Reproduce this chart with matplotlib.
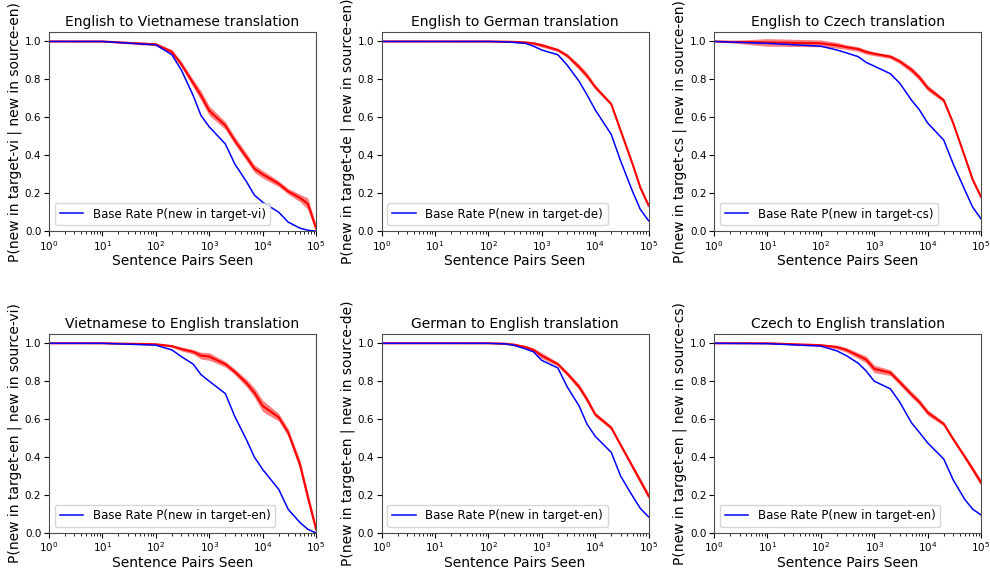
import numpy as np
import matplotlib
matplotlib.use("Agg")
import matplotlib.pyplot as plt

# sentence pairs seen (sample points)
pairs = [1, 10, 100, 200, 300, 500, 700, 1000, 2000, 3000, 5000, 7000,
         10000, 20000, 30000, 50000, 70000, 100000]

titles = ["English to Vietnamese translation", "English to German translation",
          "English to Czech translation", "Vietnamese to English translation",
          "German to English translation", "Czech to English translation"]
ylabels = ["P(new in target-vi | new in source-en)", "P(new in target-de | new in source-en)",
           "P(new in target-cs | new in source-en)", "P(new in target-en | new in source-vi)",
           "P(new in target-en | new in source-de)", "P(new in target-en | new in source-cs)"]
legend_labels = ["Base Rate P(new in target-vi)", "Base Rate P(new in target-de)",
                 "Base Rate P(new in target-cs)", "Base Rate P(new in target-en)",
                 "Base Rate P(new in target-en)", "Base Rate P(new in target-en)"]

base_en_vi = [1.0, 1.0, 0.982, 0.93, 0.85, 0.715, 0.61, 0.55, 0.46, 0.355, 0.26, 0.19, 0.153, 0.10, 0.048, 0.016, 0.005, 0.0]
model_en_vi = [1.0, 1.0, 0.985, 0.945, 0.88, 0.78, 0.715, 0.635, 0.557, 0.478, 0.39, 0.33, 0.30, 0.25, 0.21, 0.175, 0.145, 0.015]
band_en_vi = [0, 0.003, 0.008, 0.012, 0.015, 0.02, 0.025, 0.025, 0.02, 0.02, 0.02, 0.02, 0.02, 0.015, 0.015, 0.02, 0.03, 0.02]

base_en_de = [1.0, 1.0, 1.0, 0.998, 0.995, 0.99, 0.975, 0.955, 0.93, 0.875, 0.79, 0.72, 0.64, 0.51, 0.37, 0.21, 0.115, 0.055]
model_en_de = [1.0, 1.0, 1.0, 0.999, 0.998, 0.995, 0.99, 0.98, 0.955, 0.925, 0.865, 0.82, 0.76, 0.67, 0.53, 0.355, 0.23, 0.135]
band_en_de = [0, 0.001, 0.002, 0.003, 0.004, 0.006, 0.008, 0.01, 0.008, 0.01, 0.015, 0.015, 0.012, 0.008, 0.008, 0.008, 0.01, 0.01]

base_en_cs = [1.0, 0.99, 0.975, 0.955, 0.94, 0.92, 0.89, 0.87, 0.83, 0.78, 0.69, 0.64, 0.57, 0.48, 0.355, 0.215, 0.125, 0.065]
model_en_cs = [1.0, 0.995, 0.99, 0.98, 0.97, 0.96, 0.945, 0.935, 0.92, 0.895, 0.85, 0.81, 0.755, 0.69, 0.57, 0.39, 0.27, 0.18]
band_en_cs = [0, 0.02, 0.018, 0.015, 0.012, 0.012, 0.012, 0.01, 0.01, 0.012, 0.015, 0.015, 0.015, 0.01, 0.008, 0.008, 0.01, 0.01]

base_vi_en = [1.0, 1.0, 0.99, 0.965, 0.93, 0.89, 0.835, 0.80, 0.735, 0.615, 0.49, 0.40, 0.335, 0.23, 0.125, 0.055, 0.02, 0.0]
model_vi_en = [1.0, 1.0, 0.995, 0.985, 0.97, 0.955, 0.935, 0.93, 0.89, 0.85, 0.79, 0.74, 0.67, 0.61, 0.53, 0.36, 0.19, 0.02]
band_vi_en = [0, 0.002, 0.004, 0.006, 0.01, 0.012, 0.018, 0.02, 0.015, 0.015, 0.02, 0.025, 0.03, 0.02, 0.02, 0.025, 0.025, 0.02]

base_de_en = [1.0, 1.0, 1.0, 0.997, 0.99, 0.97, 0.955, 0.91, 0.87, 0.77, 0.67, 0.575, 0.51, 0.425, 0.30, 0.195, 0.13, 0.085]
model_de_en = [1.0, 1.0, 1.0, 0.998, 0.993, 0.98, 0.965, 0.935, 0.89, 0.84, 0.77, 0.705, 0.625, 0.555, 0.464, 0.35, 0.275, 0.195]
band_de_en = [0, 0.001, 0.002, 0.004, 0.006, 0.008, 0.01, 0.015, 0.01, 0.012, 0.015, 0.015, 0.012, 0.01, 0.01, 0.012, 0.015, 0.015]

base_cs_en = [1.0, 0.998, 0.985, 0.96, 0.935, 0.895, 0.855, 0.80, 0.76, 0.69, 0.58, 0.53, 0.475, 0.39, 0.28, 0.175, 0.125, 0.095]
model_cs_en = [1.0, 1.0, 0.99, 0.98, 0.965, 0.935, 0.915, 0.865, 0.845, 0.795, 0.73, 0.69, 0.635, 0.575, 0.495, 0.4, 0.335, 0.265]
band_cs_en = [0, 0.002, 0.005, 0.01, 0.012, 0.015, 0.018, 0.02, 0.015, 0.015, 0.015, 0.015, 0.015, 0.01, 0.01, 0.012, 0.015, 0.015]

bases = [base_en_vi, base_en_de, base_en_cs, base_vi_en, base_de_en, base_cs_en]
models = [model_en_vi, model_en_de, model_en_cs, model_vi_en, model_de_en, model_cs_en]
bands = [band_en_vi, band_en_de, band_en_cs, band_vi_en, band_de_en, band_cs_en]

fig, axes = plt.subplots(2, 3, figsize=(9.9, 5.68), dpi=100)
plt.subplots_adjust(left=0.0495, right=0.991, top=0.9437, bottom=0.0616,
                    wspace=0.245, hspace=0.515)

x = np.array(pairs)
for i, ax in enumerate(axes.flat):
    m = np.array(models[i])
    b = np.array(bands[i])
    ax.fill_between(x, m - b, m + b, color='r', alpha=0.5, linewidth=0)
    ax.plot(x, m, color='r', linewidth=1.5)
    ax.plot(x, bases[i], color='b', linewidth=1.1, label=legend_labels[i])
    ax.set_xscale('log')
    ax.set_xlim(1, 1e5)
    ax.set_ylim(0, 1.05)
    ax.set_title(titles[i], fontsize=10, pad=4)
    ax.set_xlabel("Sentence Pairs Seen", fontsize=10, labelpad=1)
    ax.set_ylabel(ylabels[i], fontsize=10, labelpad=2)
    ax.tick_params(labelsize=7.5, pad=2)
    for sp in ax.spines.values():
        sp.set_color('0.3')
    ax.legend(loc='lower left', fontsize=8.5)

plt.savefig("out.png")
